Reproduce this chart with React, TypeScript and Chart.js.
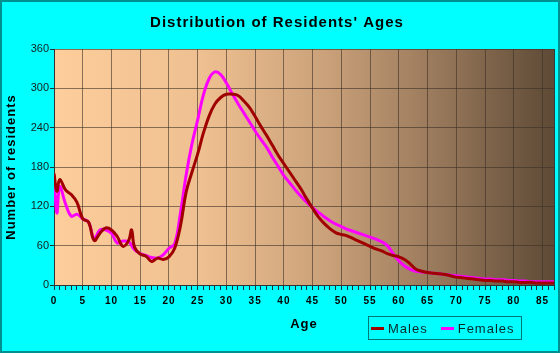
import React, { useEffect, useRef } from "react";
import { Chart, registerables } from "chart.js";

Chart.register(...registerables);

const chartTitle = "Distribution of Residents' Ages";
const xAxisTitle = "Age";
const yAxisTitle = "Number of residents";
const seriesNames = ["Males", "Females"];
const seriesColors = ["#A00000", "#FF00FF"];

const ages = [
  0, 0.5, 1, 2, 3, 4, 5, 6, 7, 8, 9, 10, 11, 12, 13, 13.5, 14, 15, 16, 17, 18, 19,
  20, 21, 22, 23, 24, 25, 26, 27, 28, 29, 30, 31, 32, 33, 34, 35, 36, 37, 38, 39,
  40, 41, 42, 43, 44, 45, 46, 47, 48, 49, 50, 51, 52, 53, 54, 55, 56, 57, 58, 59,
  60, 61, 62, 63, 64, 65, 66, 67, 68, 69, 70, 71, 72, 73, 74, 75, 76, 77, 78, 79,
  80, 81, 82, 83, 84, 85, 86, 87,
];

const males = [
  170, 143, 161, 145, 138, 126, 101, 96, 68, 79, 87, 84, 74, 59, 68, 84, 58, 47, 44, 36, 41, 39,
  43, 56, 90, 142, 172, 200, 232, 258, 276, 286, 291, 291, 289, 281, 271, 257, 242, 228, 213, 198,
  185, 172, 159, 146, 131, 117, 104, 94, 86, 80, 77, 75, 71, 67, 63, 59, 55, 52, 48, 45,
  43, 39, 32, 24, 21, 19, 18, 17, 16, 14, 12, 11, 10, 9, 8, 7, 7, 6, 6, 5,
  5, 4, 4, 4, 3, 3, 3, 3,
];

const females = [
  168, 110, 150, 124, 105, 108, 101, 96, 71, 84, 84, 79, 64, 67, 66, 60, 54, 48, 45, 42, 41, 46,
  56, 63, 110, 168, 215, 252, 290, 315, 325, 321, 308, 292, 277, 263, 249, 235, 222, 210, 195, 181,
  167, 156, 145, 135, 126, 118, 111, 104, 98, 93, 89, 85, 82, 79, 76, 73, 70, 66, 60, 48,
  37, 29, 24, 21, 20, 19, 18, 17, 16, 15, 14, 13, 12, 11, 10, 9, 9, 8, 8, 7,
  7, 6, 6, 5, 5, 5, 5, 5,
];

const xMin = 0;
const xMax = 87;
const yMin = 0;
const yMax = 360;
const yStep = 60;
const xLabelStep = 5;

const FONT = "'Liberation Sans', Arial, sans-serif";
const NARROW = "'Liberation Sans Narrow', 'Arial Narrow', 'Liberation Sans', sans-serif";

export default function App() {
  const canvasRef = useRef<HTMLCanvasElement | null>(null);

  useEffect(() => {
    const canvas = canvasRef.current;
    if (!canvas) return;

    const bgPlugin = {
      id: "bgPlugin",
      beforeDraw(chart: any) {
        const { ctx, chartArea } = chart;
        ctx.save();
        ctx.fillStyle = "#00FFFF";
        ctx.fillRect(0, 0, chart.width, chart.height);
        const g = ctx.createLinearGradient(chartArea.left, 0, chartArea.right, 0);
        g.addColorStop(0, "#FDCD9B");
        g.addColorStop(0.3, "#EEBF90");
        g.addColorStop(0.55, "#C9A079");
        g.addColorStop(0.78, "#957659");
        g.addColorStop(1, "#5E4A36");
        ctx.fillStyle = g;
        ctx.fillRect(
          chartArea.left,
          chartArea.top,
          chartArea.right - chartArea.left,
          chartArea.bottom - chartArea.top
        );
        ctx.restore();
        const ys = chart.scales.y;
        if (ys && !ys.__patched) {
          const orig = ys.drawLabels.bind(ys);
          ys.drawLabels = (area: any) => {
            const c = chart.ctx as any;
            const prev = c.letterSpacing;
            c.letterSpacing = "0px";
            orig(area);
            c.letterSpacing = prev;
          };
          ys.__patched = true;
        }
        (ctx as any).letterSpacing = "1px";
      },
      afterDraw(chart: any) {
        const { ctx, chartArea } = chart;
        ctx.save();
        (ctx as any).letterSpacing = "0px";
        ctx.strokeStyle = "rgba(45,35,25,0.85)";
        ctx.lineWidth = 1;
        ctx.beginPath();
        ctx.moveTo(Math.round(chartArea.right) + 0.5, chartArea.top);
        ctx.lineTo(Math.round(chartArea.right) + 0.5, chartArea.bottom);
        ctx.stroke();
        ctx.strokeStyle = "#009090";
        ctx.lineWidth = 2;
        ctx.strokeRect(1, 1, chart.width - 2, chart.height - 2);
        ctx.restore();
      },
    };

    const chart = new Chart(canvas, {
      type: "line",
      data: {
        datasets: [
          {
            label: seriesNames[0],
            data: ages.map((a, i) => ({ x: a, y: males[i] })),
            borderColor: seriesColors[0],
            backgroundColor: seriesColors[0],
            borderWidth: 3,
            pointRadius: 0,
            tension: 0.4,
          },
          {
            label: seriesNames[1],
            data: ages.map((a, i) => ({ x: a, y: females[i] })),
            borderColor: seriesColors[1],
            backgroundColor: seriesColors[1],
            borderWidth: 3,
            pointRadius: 0,
            tension: 0.4,
          },
        ],
      },
      options: {
        responsive: false,
        animation: false,
        devicePixelRatio: 1,
        layout: { padding: { left: 0, right: 6, top: 0, bottom: 0 } },
        plugins: {
          legend: { display: false },
          tooltip: { enabled: false },
          title: {
            display: true,
            text: chartTitle,
            color: "#000000",
            font: { family: FONT, size: 15, weight: "bold" },
            padding: { top: 14, bottom: 17 },
          },
        },
        scales: {
          x: {
            type: "linear",
            min: xMin,
            max: xMax,
            afterFit: (s: any) => {
              s.height = 68;
            },
            ticks: {
              stepSize: 1,
              autoSkip: false,
              maxRotation: 0,
              color: "#000000",
              padding: 5,
              font: { family: FONT, size: 10, weight: "bold" },
              callback: (v: any) => (Number(v) % xLabelStep === 0 ? String(v) : ""),
            },
            grid: {
              color: (c: any) =>
                c.tick && Number(c.tick.value) % xLabelStep === 0 && c.tick.value !== 0
                  ? "rgba(60,48,38,0.6)"
                  : "rgba(0,0,0,0)",
              tickColor: "#1a3a3a",
              tickLength: 5,
              lineWidth: 1,
            },
            border: { color: "#333333", width: 1 },
            title: {
              display: true,
              text: xAxisTitle,
              color: "#000000",
              font: { family: FONT, size: 13, weight: "bold" },
              padding: { top: 0, bottom: 21 },
            },
          },
          y: {
            type: "linear",
            min: yMin,
            max: yMax,
            afterFit: (s: any) => {
              s.width = 54;
            },
            ticks: {
              stepSize: yStep,
              color: "#1a1a1a",
              padding: 1,
              font: { family: NARROW, size: 11 },
            },
            grid: {
              color: (c: any) =>
                c.tick && c.tick.value !== 0 ? "rgba(60,48,38,0.6)" : "rgba(0,0,0,0)",
              tickColor: "#1a3a3a",
              tickLength: 4,
              lineWidth: 1,
            },
            border: { color: "#333333", width: 1 },
            title: {
              display: true,
              text: yAxisTitle,
              color: "#000000",
              font: { family: FONT, size: 13, weight: "bold" },
              padding: { top: 4, bottom: 0 },
            },
          },
        },
      },
      plugins: [bgPlugin],
    });

    return () => {
      chart.destroy();
    };
  }, []);

  return (
    <div
      style={{
        position: "absolute",
        left: 0,
        top: 0,
        width: 560,
        height: 353,
        overflow: "hidden",
      }}
    >
      <canvas ref={canvasRef} width={560} height={353} style={{ display: "block" }} />
      <div
        style={{
          position: "absolute",
          left: 368,
          top: 316,
          width: 154,
          height: 24,
          boxSizing: "border-box",
          border: "1px solid #007878",
          display: "flex",
          alignItems: "center",
          paddingLeft: 2,
          fontFamily: FONT,
          fontSize: 13,
          letterSpacing: "1px",
          color: "#0a2a2a",
        }}
      >
        {seriesNames.map((name, i) => (
          <div
            key={name}
            style={{ display: "flex", alignItems: "center", marginRight: i === 0 ? 13 : 0 }}
          >
            <span
              style={{
                display: "inline-block",
                width: 13,
                height: 3,
                background: seriesColors[i],
                marginRight: 4,
              }}
            />
            <span>{name}</span>
          </div>
        ))}
      </div>
    </div>
  );
}
